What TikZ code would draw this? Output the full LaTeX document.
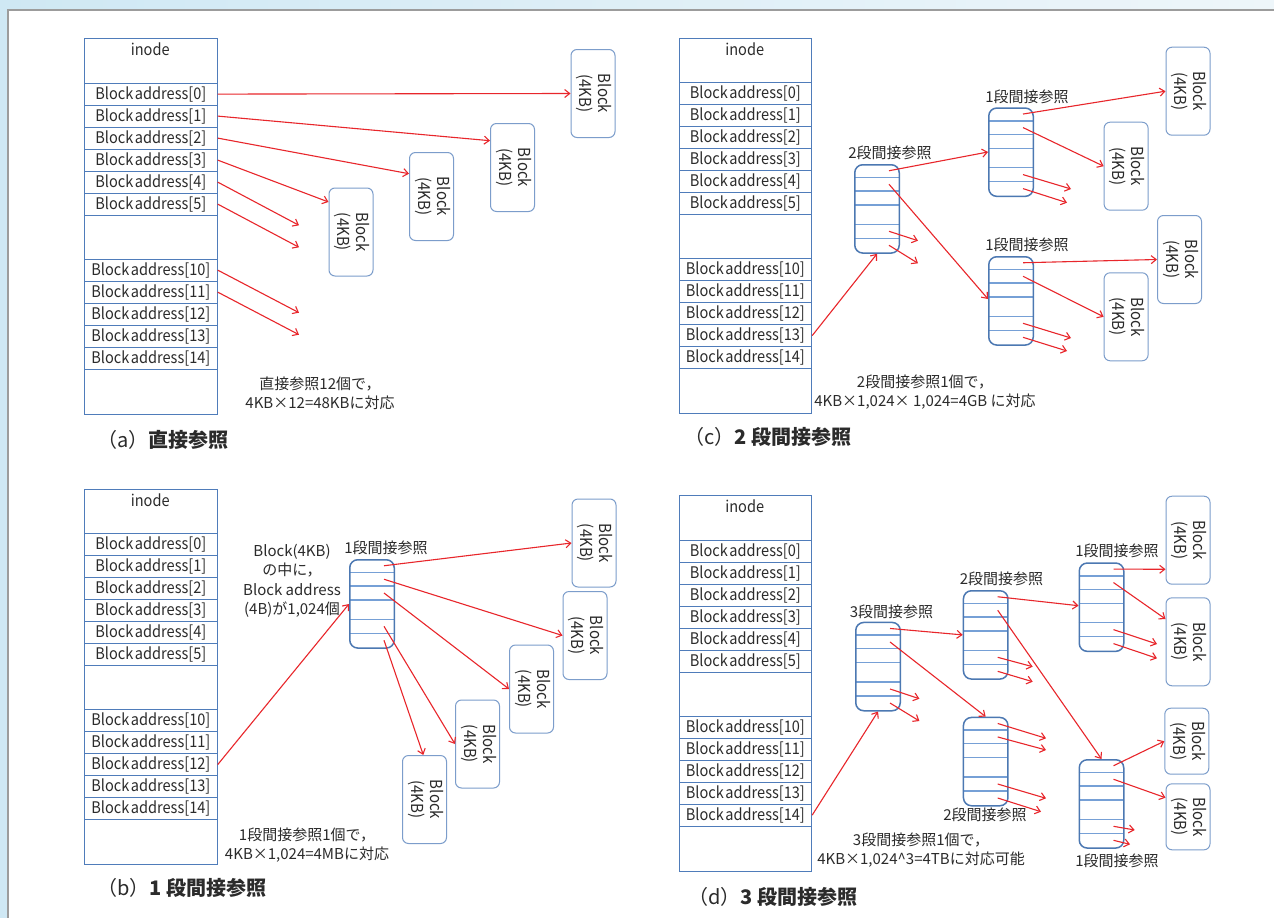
\documentclass[tikz,border=0pt]{standalone}
\usepackage{fontspec}
\usepackage{graphicx}
\setmainfont{Noto Sans CJK JP}
\newfontfamily\narrowfont[FakeStretch=0.91, WordSpace=0.5]{Noto Sans CJK JP}
\usetikzlibrary{arrows.meta,calc}

\definecolor{framegray}{HTML}{9C9C9C}
\definecolor{skyA}{HTML}{CFE8F4}
\definecolor{skyB}{HTML}{EEF6FA}
\definecolor{tblue}{HTML}{4F7CBA}
\definecolor{bblue}{HTML}{7C9DCB}
\definecolor{iblue}{HTML}{4C78B2}
\definecolor{sblue}{HTML}{76A0D6}
\definecolor{ared}{HTML}{E8262B}
\definecolor{ink}{HTML}{2B2B2B}

% inode table: #1 name, #2 left, #3 top
\newcommand\inodetab[3]{%
  \node[tbl, anchor=north west, minimum width=132.5pt, minimum height=375.5pt] (#1) at (#2,#3) {};
  \node[rowtext] (#1-h) at ({#2+66.25},{#3+11.5}) {inode};
  \foreach \i in {0,...,5}
    \node[rowbox, anchor=north west] (#1-\i) at ({#2},{#3+44.5+22*\i}) {Block address[\i]};
  \foreach \i in {10,...,14}
    \node[rowbox, anchor=north west] (#1-\i) at ({#2},{#3+220.5+22*(\i-10)}) {Block address[\i]};
}

% indirect block with its slots: #1 name, #2 left, #3 top
\newcommand\indbox[3]{%
  \foreach \d in {13.5,27,41,60.3,74.3}
    \draw[slotline] ({#2},{#3+\d}) -- ({#2+44.5},{#3+\d});
  \node[indb, anchor=north west] (#1) at (#2,#3) {};
  \foreach \k/\d in {1/6.75,2/20.25,3/34,4/50.6,5/67.3,6/81.3}
    \coordinate (#1-\k) at ({#2+35},{#3+\d});
}

% data block: #1 name, #2 left, #3 top, #4 height
\newcommand\blkbox[4]{%
  \node[blk, anchor=north west, minimum height=#4pt] (#1) at (#2,#3)
    {\rotatebox{-90}{\begin{tabular}{@{}c@{}}Block\\(4KB)\end{tabular}}};
}

% pointer leading to an unshown block: #1 from, #2 end name, #3 x, #4 y
\newcommand\stub[4]{%
  \coordinate (#2) at (#3,#4);
  \draw[refarrow] (#1) -- (#2);
}

\begin{document}
\begin{tikzpicture}[x=1pt,y=-1pt,
  tbl/.style={draw=tblue, line width=1.2pt},
  rowbox/.style={draw=tblue, line width=1.2pt, minimum width=132.5pt, minimum height=22pt,
    inner sep=0pt, text=ink, font=\narrowfont\fontsize{16}{18}\selectfont},
  rowtext/.style={text=ink, inner sep=0pt, font=\narrowfont\fontsize{16}{18}\selectfont},
  blk/.style={draw=bblue, line width=1pt, rounded corners=6pt, minimum width=44pt,
    inner sep=0pt, text=ink, font=\narrowfont\fontsize{16.5}{18.5}\selectfont},
  indb/.style={draw=iblue, line width=1.5pt, rounded corners=8pt, minimum width=44.5pt,
    minimum height=88.3pt, inner sep=0pt},
  slotline/.style={draw=sblue, line width=1.5pt},
  refarrow/.style={draw=ared, line width=1.1pt, -{Straight Barb[length=5pt,width=8pt]}},
  lbl/.style={text=ink, inner sep=0pt, font=\fontsize{15}{18}\selectfont},
  note/.style={text=ink, inner sep=0pt, align=center, font=\fontsize{15}{19}\selectfont},
  captext/.style={text=ink, inner sep=0pt, anchor=west, font=\fontsize{20}{24}\selectfont},
]
\useasboundingbox (0,0) rectangle (1274,918);

% page background and frame
\shade[left color=skyA, right color=skyB] (0,0) rectangle (1274,10);
\fill[skyA] (0,10) rectangle (8,918);
\fill[white] (8,10) rectangle (1274,918);
\draw[framegray, line width=1.5pt] (8,918) -- (8,10) -- (1274,10);

% ---------- (a) direct references ----------
\inodetab{a}{84}{38}
\blkbox{a-b0}{570.5}{49}{88}
\blkbox{a-b1}{490}{123}{88}
\blkbox{a-b2}{409}{152}{88}
\blkbox{a-b3}{328.5}{187.5}{88}
\draw[refarrow] (a-0.east) -- (a-b0.west);
\draw[refarrow] (a-1.east) -- ($(a-b1.north west)+(0,17.7)$);
\draw[refarrow] (a-2.east) -- ($(a-b2.north west)+(0,21.7)$);
\draw[refarrow] (a-3.east) -- ($(a-b3.north west)+(0,14.5)$);
\stub{a-4.east}{a-e4}{299}{225.3}
\stub{a-5.east}{a-e5}{299}{247.3}
\stub{a-10.east}{a-e10}{299}{312.7}
\stub{a-11.east}{a-e11}{299}{334.7}
\node[note] (a-note) at (320,393.5) {直接参照12個で，\\4KB×12=48KBに対応};
\node[captext] (a-cap) at (97,440) {（a）\textbf{直接参照}};

% ---------- (b) single indirect ----------
\inodetab{b}{84}{488.5}
\indbox{b-i1}{349}{559}
\node[lbl] (b-i1-l) at (386,548) {1段間接参照};
\node[note, font=\fontsize{15}{19.4}\selectfont] (b-memo) at (292,581)
  {Block(4KB)\\の中に，\\Block address\\(4B)が1,024個};
\blkbox{b-b1}{571.5}{498.5}{88}
\blkbox{b-b2}{562.5}{591}{88}
\blkbox{b-b3}{509}{644.5}{88}
\blkbox{b-b4}{455}{699.5}{88}
\blkbox{b-b5}{402}{755}{88}
\draw[refarrow] (b-12.east) -- ($(b-i1.north west)+(0,45)$);
\draw[refarrow] (b-i1-1) -- (b-b1.west);
\draw[refarrow] (b-i1-2) -- (b-b2.west);
\draw[refarrow] (b-i1-3) -- (b-b3.west);
\draw[refarrow] (b-i1-5) -- (b-b4.west);
\draw[refarrow] (b-i1-6) -- ($(b-b5.north west)+(21.3,0)$);
\node[note] (b-note) at (307,845) {1段間接参照1個で，\\4KB×1,024=4MBに対応};
\node[captext] (b-cap) at (97,888) {（b）\textbf{1 段間接参照}};

% ---------- (c) double indirect ----------
\inodetab{c}{678.5}{37.5}
\indbox{c-i2}{854}{164}
\indbox{c-i1a}{988}{107.3}
\indbox{c-i1b}{988}{256}
\node[lbl] (c-i2-l) at (890,153.3) {2段間接参照};
\node[lbl] (c-i1a-l) at (1027,96.7) {1段間接参照};
\node[lbl] (c-i1b-l) at (1027,245) {1段間接参照};
\blkbox{c-b1}{1165.5}{46.7}{88}
\blkbox{c-b2}{1103.6}{121.7}{88}
\blkbox{c-b3}{1157}{215}{88}
\blkbox{c-b4}{1103.6}{272.3}{88}
\draw[refarrow] (c-13.east) -- (c-i2.south);
\draw[refarrow] (c-i2-1) -- ($(c-i1a.north west)+(0,44.7)$);
\draw[refarrow] (c-i2-2) -- ($(c-i1b.north west)+(0,43)$);
\stub{c-i2-5}{c-e25}{918}{240.7}
\stub{c-i2-6}{c-e26}{918}{263.3}
\draw[refarrow] (c-i1a-1) -- (c-b1.west);
\draw[refarrow] (c-i1a-2) -- (c-b2.west);
\stub{c-i1a-5}{c-ea5}{1071}{189}
\stub{c-i1a-6}{c-ea6}{1067}{202.7}
\draw[refarrow] (c-i1b-1) -- (c-b3.west);
\draw[refarrow] (c-i1b-2) -- (c-b4.west);
\stub{c-i1b-5}{c-eb5}{1071}{338}
\stub{c-i1b-6}{c-eb6}{1067}{351}
\node[note] (c-note) at (925,392.5) {2段間接参照1個で，\\4KB×1,024× 1,024=4GB に対応};
\node[captext] (c-cap) at (684,436.7) {（c）\textbf{2 段間接参照}};

% ---------- (d) triple indirect ----------
\inodetab{d}{678.5}{495}
\indbox{d-i3}{855}{621.7}
\indbox{d-i2a}{962.7}{590}
\indbox{d-i2b}{962.7}{716.7}
\indbox{d-i1a}{1078.5}{562.3}
\indbox{d-i1b}{1078.5}{759}
\node[lbl] (d-i3-l) at (891.5,611.7) {3段間接参照};
\node[lbl] (d-i2a-l) at (1001.5,579) {2段間接参照};
\node[lbl] (d-i2b-l) at (985,815) {2段間接参照};
\node[lbl] (d-i1a-l) at (1117,550.7) {1段間接参照};
\node[lbl] (d-i1b-l) at (1117,861) {1段間接参照};
\blkbox{d-b1}{1165.5}{495.7}{88}
\blkbox{d-b2}{1165.5}{597.3}{88}
\blkbox{d-b3}{1164.3}{707.7}{66}
\blkbox{d-b4}{1165.5}{783.3}{66}
\draw[refarrow] (d-14.east) -- (d-i3.south);
\draw[refarrow] (d-i3-1) -- (d-i2a.west);
\draw[refarrow] (d-i3-2) -- (d-i2b.north);
\stub{d-i3-5}{d-e35}{919.4}{698.7}
\stub{d-i3-6}{d-e36}{919.4}{721}
\draw[refarrow] (d-i2a-1) -- ($(d-i1a.north west)+(0,43.4)$);
\draw[refarrow] (d-i2a-2) -- (d-i1b.north);
\stub{d-i2a-5}{d-ea5}{1032.7}{666.7}
\stub{d-i2a-6}{d-ea6}{1032.7}{681.7}
\stub{d-i2b-1}{d-eb1}{1046}{738.3}
\stub{d-i2b-2}{d-eb2}{1046}{750}
\stub{d-i2b-5}{d-eb5}{1046}{798.3}
\stub{d-i2b-6}{d-eb6}{1041}{811.7}
\draw[refarrow] (d-i1a-1) -- ($(d-b1.north west)+(0,73.6)$);
\draw[refarrow] (d-i1a-2) -- ($(d-b2.north west)+(0,21.7)$);
\stub{d-i1a-5}{d-fa5}{1157}{644}
\stub{d-i1a-6}{d-fa6}{1157}{658.3}
\draw[refarrow] (d-i1b-1) -- (d-b3.west);
\draw[refarrow] (d-i1b-2) -- ($(d-b4.north west)+(0,14.4)$);
\stub{d-i1b-5}{d-fb5}{1134.7}{830}
\stub{d-i1b-6}{d-fb6}{1130}{844.3}
\node[note] (d-note) at (921,850.5) {3段間接参照1個で，\\4KB×1,024\textasciicircum 3=4TBに対応可能};
\node[captext] (d-cap) at (688,896.7) {（d）\textbf{3 段間接参照}};
\end{tikzpicture}
\end{document}
